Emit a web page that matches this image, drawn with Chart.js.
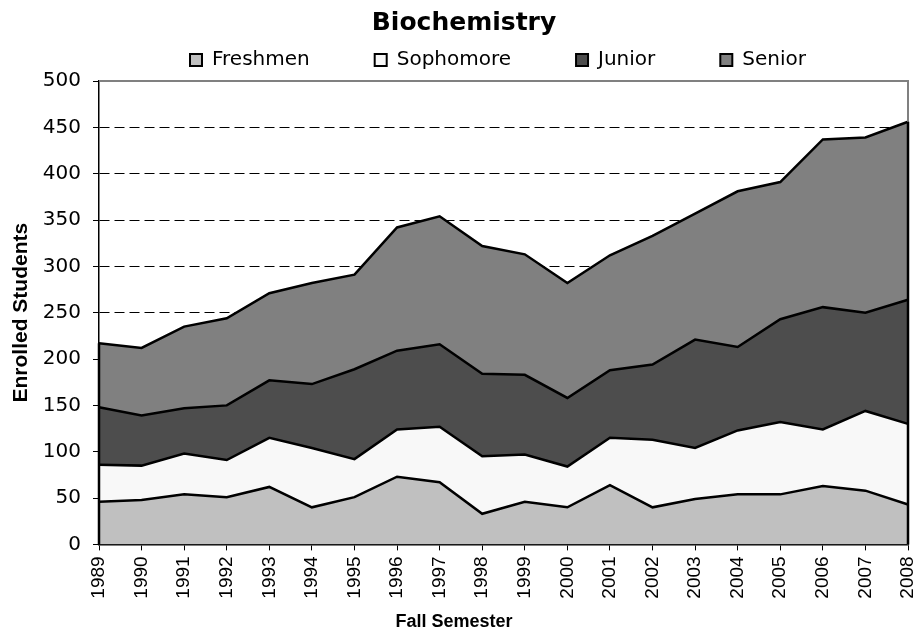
<!DOCTYPE html>
<html>
<head>
<meta charset="utf-8">
<script src="https://cdn.jsdelivr.net/npm/chart.js@4.4.1/dist/chart.umd.min.js"></script>
<style>
  body { margin: 0; background: #fff; }
  #wrap { width: 917px; height: 639px; position: relative; }
</style>
</head>
<body>
<div id="wrap"><canvas id="enrollment"></canvas></div>
<script>
const years = ['1989', '1990', '1991', '1992', '1993', '1994', '1995', '1996', '1997', '1998',
               '1999', '2000', '2001', '2002', '2003', '2004', '2005', '2006', '2007', '2008'];
const freshmen  = [46, 48, 54, 51, 62, 40, 51, 73, 67, 33, 46, 40, 64, 40, 49, 54, 54, 63, 58, 43];
const sophomore = [40, 37, 44, 40, 53, 64, 41, 51, 60, 62, 51, 44, 51, 73, 55, 69, 78, 61, 86, 87];
const junior    = [62, 54, 49, 59, 62, 69, 97, 85, 89, 89, 86, 74, 73, 81, 117, 90, 111, 132, 106, 134];
const senior    = [69, 73, 88, 94, 94, 109, 102, 133, 138, 138, 130, 124, 124, 139, 136, 168, 148, 181, 189, 192];
const yMax = 500;
const yStep = 50;

const arial = '"Liberation Sans", Arial, sans-serif';
Chart.defaults.color = '#000';
Chart.defaults.font.family = '"DejaVu Sans", sans-serif';

function series(label, data, colour, fill) {
    return {
        label: label,
        data: data,
        backgroundColor: colour,
        borderColor: '#000',
        borderWidth: 2.5,
        pointRadius: 0,
        pointHoverRadius: 0,
        tension: 0,
        fill: fill
    };
}

// plot frame: grey top/right edge, black outline of the stacked area at both ends
const frame = {
    id: 'frame',
    afterDatasetsDraw(chart) {
        const {ctx, chartArea: a, scales: {y}} = chart;
        const last = years.length - 1;
        const topLast = y.getPixelForValue(freshmen[last] + sophomore[last] + junior[last] + senior[last]);
        const topFirst = y.getPixelForValue(freshmen[0] + sophomore[0] + junior[0] + senior[0]);
        ctx.save();
        ctx.strokeStyle = '#808080';
        ctx.lineWidth = 2;
        ctx.beginPath();
        ctx.moveTo(a.left, a.top);
        ctx.lineTo(a.right, a.top);
        ctx.lineTo(a.right, a.bottom);
        ctx.stroke();
        ctx.strokeStyle = '#000';
        ctx.lineWidth = 2.5;
        ctx.beginPath();
        ctx.moveTo(a.right, topLast);
        ctx.lineTo(a.right, a.bottom);
        ctx.moveTo(a.left, topFirst);
        ctx.lineTo(a.left, a.bottom);
        ctx.stroke();
        ctx.restore();
    }
};

// nudge title and legend into place
const placeHeader = {
    id: 'placeHeader',
    afterLayout(chart) {
        const lg = chart.legend;
        lg.left += 44; lg.right += 44;
        lg.top -= 53;
        const t = chart.titleBlock;
        t.left += 10; t.right += 10;
    }
};

new Chart(document.getElementById('enrollment'), {
    type: 'line',
    data: {
        labels: years,
        datasets: [
            series('Freshmen', freshmen, '#c0c0c0', 'origin'),
            series('Sophomore', sophomore, '#f8f8f8', '-1'),
            series('Junior', junior, '#4d4d4d', '-1'),
            series('Senior', senior, '#808080', '-1')
        ]
    },
    plugins: [frame, placeHeader],
    options: {
        responsive: true,
        maintainAspectRatio: false,
        animation: false,
        events: [],
        layout: { padding: { right: 9 } },
        scales: {
            x: {
                offset: false,
                grid: { drawOnChartArea: false, drawTicks: true, tickLength: 6, tickColor: '#000', tickWidth: 1 },
                border: { color: '#000', width: 2.5 },
                ticks: {
                    autoSkip: false, maxRotation: 90, minRotation: 90, padding: 6,
                    font: { family: arial, size: 19 }
                },
                afterFit(s) {
                    s.height = 65;
                    s.paddingLeft = 0;
                    s.paddingRight = 0;
                }
            },
            y: {
                stacked: true,
                min: 0,
                max: yMax,
                grid: {
                    color: c => (c.tick.value === 0 || c.tick.value === yMax) ? 'rgba(0,0,0,0)' : '#000',
                    lineWidth: 1,
                    tickLength: 6,
                    tickColor: '#000',
                    tickWidth: 1
                },
                border: { color: '#000', width: 1.5, dash: [10, 5] },
                ticks: { stepSize: yStep, padding: 12, font: { size: 20 } },
                title: {
                    display: true, text: 'Enrolled Students',
                    font: { family: arial, size: 21, weight: 'bold' },
                    padding: { top: 9, bottom: 8 }
                },
                afterFit(s) { s.width = 99; }
            }
        },
        plugins: {
            title: {
                display: true,
                text: 'Biochemistry',
                font: { size: 25, weight: 'bold' },
                padding: { top: 8, bottom: 0 }
            },
            subtitle: {
                display: true,
                position: 'bottom',
                text: 'Fall Semester',
                font: { family: arial, size: 18, weight: 'bold' },
                padding: { top: 2, bottom: 6 }
            },
            legend: {
                position: 'top',
                maxHeight: 43,
                labels: {
                    boxWidth: 12,
                    boxHeight: 12,
                    padding: 65,
                    font: { size: 20 },
                    generateLabels(chart) {
                        return Chart.defaults.plugins.legend.labels.generateLabels(chart)
                            .map(l => Object.assign(l, { lineWidth: 2, strokeStyle: '#000' }));
                    }
                }
            },
            tooltip: { enabled: false }
        }
    }
});
</script>
</body>
</html>
